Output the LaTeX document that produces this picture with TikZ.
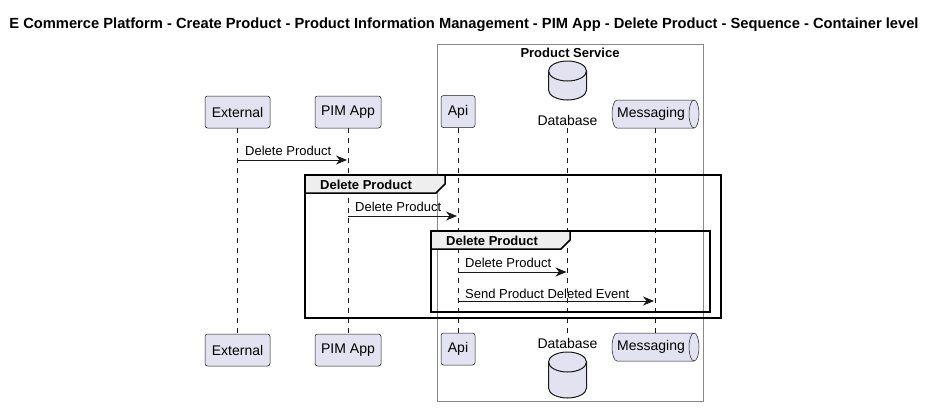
\documentclass[tikz,border=0pt]{standalone}
\usepackage{fontspec}
\setmainfont{Liberation Sans}
\usetikzlibrary{arrows.meta}
\definecolor{partfill}{HTML}{E2E2F0}
\definecolor{partline}{HTML}{181818}
\definecolor{tabfill}{HTML}{EEEEEE}
\definecolor{boxline}{HTML}{888888}
\tikzset{
  part/.style={draw=partline, fill=partfill, rounded corners=2.5pt, line width=0.5pt, minimum height=32pt, inner xsep=6pt, font=\fontsize{14}{16}\selectfont},
  life/.style={draw=partline, dash pattern=on 5pt off 5pt, line width=0.5pt},
  msg/.style={draw=partline, line width=0.9pt, -{Stealth[length=11pt,width=9pt,inset=3.5pt]}},
  mlabel/.style={font=\fontsize{13}{15}\selectfont, anchor=base west, inner sep=0pt},
  frame/.style={draw=black, line width=1.5pt},
  glabel/.style={font=\bfseries\fontsize{13}{15}\selectfont, anchor=base west, inner sep=0pt},
  dbshape/.style={draw=partline, fill=partfill, line width=1pt},
  qshape/.style={draw=partline, fill=partfill, line width=0.5pt},
  ptext/.style={font=\fontsize{14}{16}\selectfont, inner sep=0pt},
}
\begin{document}
\begin{tikzpicture}[x=1pt,y=-1pt]
\useasboundingbox (0,0) rectangle (936,413);
% title
\node[font=\bfseries\fontsize{14.7}{16}\selectfont, inner sep=0pt] (title) at (464,25) {E Commerce Platform - Create Product - Product Information Management - PIM App - Delete Product - Sequence - Container level};
% product service box
\draw[draw=boxline, line width=0.8pt] (437,44) rectangle (703,401);
\node[font=\bfseries\fontsize{13}{15}\selectfont, inner sep=0pt] (ps) at (570,53) {Product Service};
% lifelines
\coordinate (extT) at (237.5,128); \coordinate (extB) at (237.5,334);
\coordinate (pimT) at (348,128); \coordinate (pimB) at (348,334);
\coordinate (apiT) at (458,128); \coordinate (apiB) at (458,334);
\coordinate (dbT) at (567.5,128); \coordinate (dbB) at (567.5,334);
\coordinate (mqT) at (655,128); \coordinate (mqB) at (655,334);
\draw[life] (extT) -- (extB);
\draw[life] (pimT) -- (pimB);
\draw[life] (apiT) -- (apiB);
\draw[life] (dbT) -- (dbB);
\draw[life] (mqT) -- (mqB);
% participants top
\node[part, minimum width=65pt] (ext1) at (237.5,112) {External};
\node[part, minimum width=66pt] (pim1) at (348,112) {PIM App};
\node[part, minimum width=34pt] (api1) at (458,111.5) {Api};
\node[part, minimum width=65pt] (ext2) at (237.5,350) {External};
\node[part, minimum width=66pt] (pim2) at (348,350) {PIM App};
\node[part, minimum width=34pt] (api2) at (458,349) {Api};
% database top
\draw[dbshape] (548.5,71) -- (548.5,90) arc[start angle=180,end angle=0,x radius=19,y radius=10] -- (586.5,71) arc[start angle=0,end angle=-180,x radius=19,y radius=10] -- cycle;
\draw[dbshape, fill=none] (548.5,71) arc[start angle=180,end angle=0,x radius=19,y radius=10];
\node[ptext] (db1) at (567.5,120) {Database};
% database bottom
\draw[dbshape] (548.5,362) -- (548.5,388) arc[start angle=180,end angle=0,x radius=19,y radius=10] -- (586.5,362) arc[start angle=0,end angle=-180,x radius=19,y radius=10] -- cycle;
\draw[dbshape, fill=none] (548.5,362) arc[start angle=180,end angle=0,x radius=19,y radius=10];
\node[ptext] (db2) at (567.5,343) {Database};
% messaging top
\draw[qshape] (617,100) -- (694,100) arc[start angle=-90,end angle=90,x radius=5,y radius=14] -- (617,128) arc[start angle=90,end angle=270,x radius=5,y radius=14] -- cycle;
\draw[qshape, fill=none] (694,100) arc[start angle=-90,end angle=-270,x radius=5,y radius=14];
\node[ptext] (mq1) at (651,114) {Messaging};
% messaging bottom
\draw[qshape] (617,333) -- (694,333) arc[start angle=-90,end angle=90,x radius=5,y radius=14] -- (617,361) arc[start angle=90,end angle=270,x radius=5,y radius=14] -- cycle;
\draw[qshape, fill=none] (694,333) arc[start angle=-90,end angle=-270,x radius=5,y radius=14];
\node[ptext] (mq2) at (651,347) {Messaging};
% message 1
\coordinate (m1a) at (237.5,160); \coordinate (m1b) at (347,160);
\draw[msg] (m1a) -- (m1b);
\node[mlabel] (l1) at (245,155) {Delete Product};
% group 1
\draw[frame] (305,175) rectangle (721,318);
\draw[frame, fill=tabfill] (305,175) -- (445,175) -- (445,184) -- (436,193) -- (305,193) -- cycle;
\node[glabel] (g1) at (320,189) {Delete Product};
% message 2
\coordinate (m2a) at (348,216); \coordinate (m2b) at (457,216);
\draw[msg] (m2a) -- (m2b);
\node[mlabel] (l2) at (355,211) {Delete Product};
% group 2
\draw[frame] (431,231) rectangle (710,312);
\draw[frame, fill=tabfill] (431,231) -- (570,231) -- (570,240) -- (561,249) -- (431,249) -- cycle;
\node[glabel] (g2) at (446,245) {Delete Product};
% message 3
\coordinate (m3a) at (458,272); \coordinate (m3b) at (566.5,272);
\draw[msg] (m3a) -- (m3b);
\node[mlabel] (l3) at (465,267) {Delete Product};
% message 4
\coordinate (m4a) at (458,301); \coordinate (m4b) at (654,301);
\draw[msg] (m4a) -- (m4b);
\node[mlabel] (l4) at (465,298) {Send Product Deleted Event};
\end{tikzpicture}
\end{document}
